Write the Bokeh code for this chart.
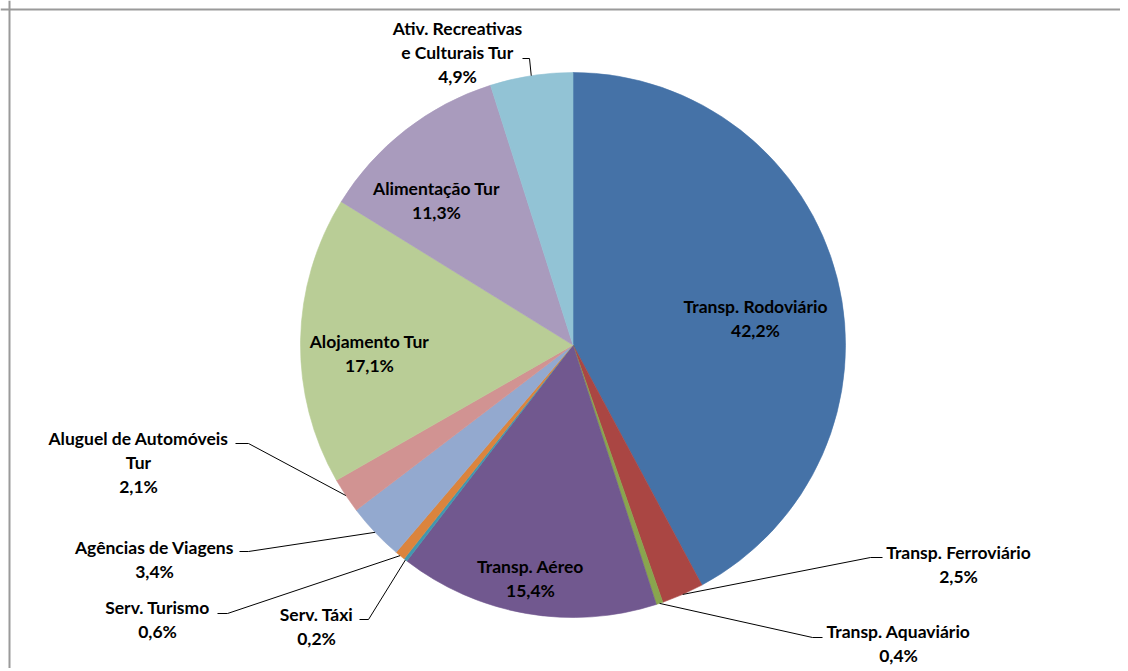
import math
from bokeh.plotting import figure
from bokeh.models import Range1d, ColumnDataSource, Span
from bokeh.core.properties import value
from bokeh.embed import file_html
from bokeh.resources import INLINE

# ---- data ----
categories = ["Transp. Rodoviário", "Transp. Ferroviário", "Transp. Aquaviário",
              "Transp. Aéreo", "Serv. Táxi", "Serv. Turismo", "Agências de Viagens",
              "Aluguel de Automóveis\nTur", "Alojamento Tur", "Alimentação Tur",
              "Ativ. Recreativas\ne Culturais Tur"]
shares = [42.2, 2.5, 0.4, 15.4, 0.2, 0.6, 3.4, 2.1, 17.1, 11.3, 4.9]
pct_labels = ["42,2%", "2,5%", "0,4%", "15,4%", "0,2%", "0,6%", "3,4%", "2,1%",
              "17,1%", "11,3%", "4,9%"]
colors = ["#4572A7", "#AA4643", "#89A54E", "#71588F", "#4198AF", "#DB843D",
          "#93A9CF", "#D19392", "#B9CD96", "#A99BBD", "#92C3D5"]

# ---- layout (screen pixel coordinates) ----
W, H = 1120, 668
CX, CY, R = 572.5, 344.5, 272.5
# centre of first label line
label_pos = [(755, 306), (958, 552), (898, 631), (530, 566), (316, 614), (157, 607),
             (154, 547), (138, 438), (369, 341), (436, 188), (457, 28)]
# leader stubs: (outer x, knee x, y) or None
stubs = [None, (882, 870, 557), (822, 812, 637), None, (359, 368, 619), (217, 227, 613),
         (239, 248, 551), (235, 248, 443), None, None, (522, 529, 58)]
LINE_H = 24


def sy(y):
    return H - y


p = figure(width=W, height=H, output_backend="svg", toolbar_location=None,
           x_range=Range1d(0, W), y_range=Range1d(0, H),
           min_border=0)
p.axis.visible = False
p.grid.visible = False
p.outline_line_color = None
p.background_fill_color = "white"

total = sum(shares)
starts, ends, mids = [], [], []
cum = 0.0
for v in shares:
    a0 = math.pi / 2 - 2 * math.pi * cum / total
    cum += v
    a1 = math.pi / 2 - 2 * math.pi * cum / total
    starts.append(a0)
    ends.append(a1)
    mids.append((a0 + a1) / 2)

src = ColumnDataSource(dict(start=starts, end=ends, color=colors))
p.wedge(x=CX, y=sy(CY), radius=R, start_angle="start", end_angle="end",
        direction="clock", fill_color="color", line_color="color", line_width=0.6,
        source=src)

# leader lines
xs, ys = [], []
for i, st in enumerate(stubs):
    if st is None:
        continue
    ex = CX + R * math.cos(mids[i])
    ey = sy(CY) + R * math.sin(mids[i])
    xs.append([st[0], st[1], ex])
    ys.append([sy(st[2]), sy(st[2]), ey])
p.multi_line(xs=xs, ys=ys, line_color="black", line_width=1)

# labels
tx, ty, tt = [], [], []
for i, name in enumerate(categories):
    lines = name.split("\n") + [pct_labels[i]]
    x0, y0 = label_pos[i]
    for k, ln in enumerate(lines):
        tx.append(x0)
        ty.append(sy(y0 + k * LINE_H))
        tt.append(ln)
p.text(x=tx, y=ty, text=tt, text_align="center", text_baseline="middle",
       text_font=value("Lato"), text_font_style="bold", text_font_size="17.5px",
       text_color="black")

# frame border (top & left visible)
p.add_layout(Span(location=9, dimension="height", line_color="#9a9a9a", line_width=2))
p.add_layout(Span(location=sy(9), dimension="width", line_color="#9a9a9a", line_width=2))

open("out.html", "w").write(file_html(p, INLINE))
